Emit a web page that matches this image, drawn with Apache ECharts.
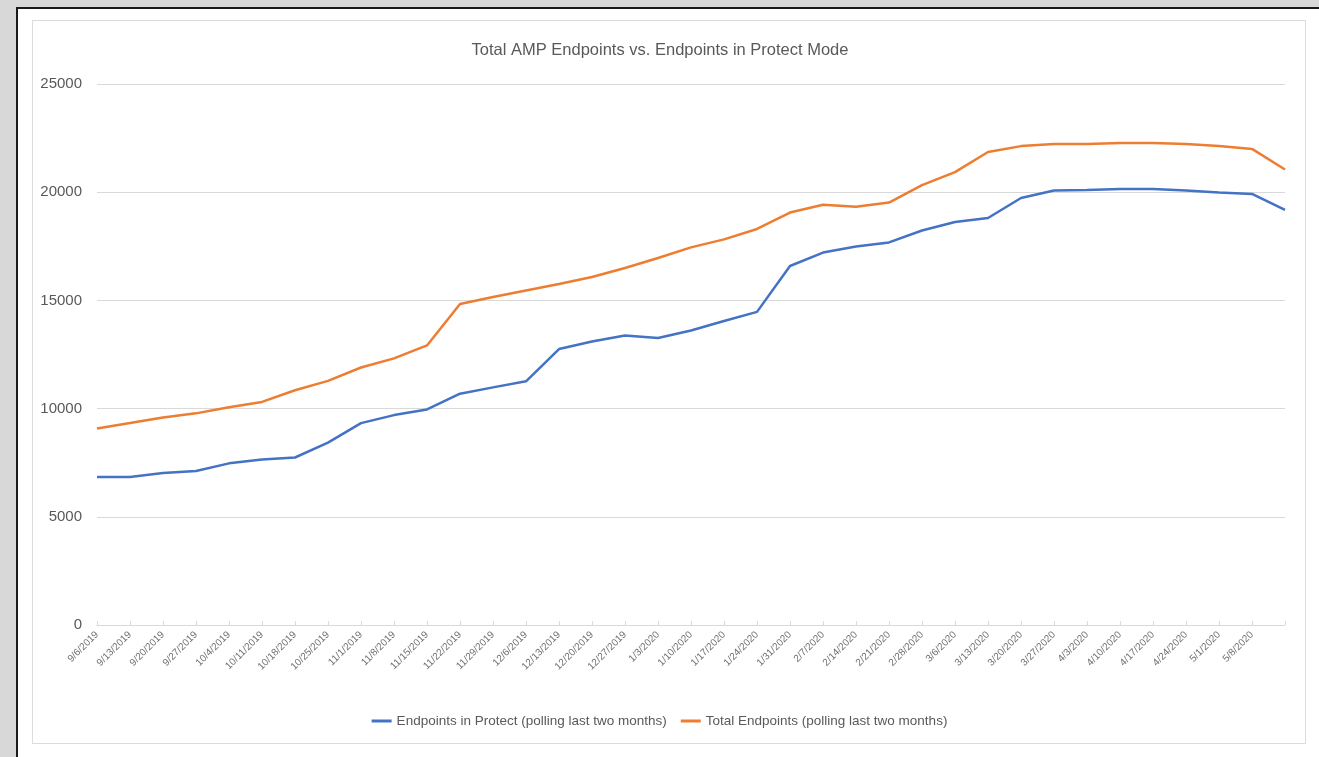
<!DOCTYPE html>
<html>
<head>
<meta charset="utf-8">
<title>Total AMP Endpoints vs. Endpoints in Protect Mode</title>
<script src="https://cdn.jsdelivr.net/npm/echarts@6/dist/echarts.min.js"></script>
<style>
  html, body {
    margin: 0;
    padding: 0;
    width: 1319px;
    height: 757px;
    overflow: hidden;
    background: #d8d8d8;
  }
  /* black framed white sheet */
  .sheet {
    position: absolute;
    left: 16px;
    top: 7px;
    width: 1320px;
    height: 760px;
    border-left: 2px solid #1a1a1a;
    border-top: 2px solid #1a1a1a;
    background: #fff;
  }
  /* light chart area border */
  .chart-frame {
    position: absolute;
    left: 32px;
    top: 20px;
    width: 1272px;
    height: 722px;
    border: 1px solid #dcdcdc;
  }
  #main {
    position: absolute;
    left: 0;
    top: 0;
    width: 1319px;
    height: 757px;
  }
</style>
</head>
<body>
<div class="sheet"></div>
<div class="chart-frame"></div>
<div id="main"></div>
<script>
// weekly polling dates (last one has no label on the axis)
const dates = [
  '9/6/2019', '9/13/2019', '9/20/2019', '9/27/2019', '10/4/2019', '10/11/2019',
  '10/18/2019', '10/25/2019', '11/1/2019', '11/8/2019', '11/15/2019', '11/22/2019',
  '11/29/2019', '12/6/2019', '12/13/2019', '12/20/2019', '12/27/2019', '1/3/2020',
  '1/10/2020', '1/17/2020', '1/24/2020', '1/31/2020', '2/7/2020', '2/14/2020',
  '2/21/2020', '2/28/2020', '3/6/2020', '3/13/2020', '3/20/2020', '3/27/2020',
  '4/3/2020', '4/10/2020', '4/17/2020', '4/24/2020', '5/1/2020', '5/8/2020',
  '5/15/2020'
]

// Endpoints in Protect (polling last two months)
const protectEndpoints = [
  6840, 6840, 7020, 7120, 7470, 7650, 7740, 8430, 9330, 9700, 9960, 10690,
  10980, 11260, 12750, 13100, 13380, 13260, 13610, 14050, 14470, 16590, 17210, 17490,
  17680, 18230, 18620, 18810, 19730, 20080, 20100, 20150, 20150, 20080, 19990, 19920,
  19180
]

// Total Endpoints (polling last two months)
const totalEndpoints = [
  9080, 9330, 9590, 9780, 10060, 10310, 10850, 11280, 11900, 12320, 12920, 14830,
  15160, 15460, 15760, 16080, 16500, 16960, 17450, 17820, 18300, 19060, 19420, 19330,
  19520, 20330, 20930, 21860, 22130, 22230, 22230, 22270, 22270, 22230, 22130, 22000,
  21050
]

const yTicks = { min: 0, max: 25000, interval: 5000 }

const textColor = '#595959'
const gridColor = '#d9d9d9'
const fontFamily = '"Liberation Sans", "DejaVu Sans", sans-serif'

const chart = echarts.init(document.getElementById('main'))

chart.setOption({
  backgroundColor: 'transparent',
  animation: false,
  textStyle: { fontFamily: fontFamily },
  title: {
    text: 'Total AMP Endpoints vs. Endpoints in Protect Mode',
    left: 655,
    top: 37,
    textAlign: 'center',
    textStyle: {
      fontSize: 16.5,
      fontWeight: 'normal',
      color: textColor,
      fontFamily: fontFamily
    }
  },
  legend: {
    left: 'center',
    top: 709,
    itemWidth: 20,
    itemHeight: 3,
    itemGap: 14,
    icon: 'rect',
    textStyle: { fontSize: 13.5, color: textColor, fontFamily: fontFamily },
    data: [
      'Endpoints in Protect (polling last two months)',
      'Total Endpoints (polling last two months)'
    ]
  },
  grid: {
    left: 97,
    right: 34,
    top: 84,
    bottom: 132
  },
  xAxis: {
    type: 'category',
    data: dates,
    boundaryGap: false,
    axisLine: { lineStyle: { color: gridColor, width: 1 } },
    axisTick: { show: true, length: 4, inside: true, lineStyle: { color: gridColor } },
    axisLabel: {
      interval: 0,
      rotate: 45,
      fontSize: 10,
      color: '#707070',
      margin: 8,
      // the last weekly point carries no label in the original
      formatter: (value, index) => (index === dates.length - 1 ? '' : value)
    }
  },
  yAxis: {
    type: 'value',
    min: yTicks.min,
    max: yTicks.max,
    interval: yTicks.interval,
    axisLine: { show: false },
    axisTick: { show: false },
    splitLine: { lineStyle: { color: gridColor, width: 1 } },
    axisLabel: {
      fontSize: 15,
      color: textColor,
      margin: 15,
      formatter: (v) => String(v)
    }
  },
  series: [
    {
      name: 'Endpoints in Protect (polling last two months)',
      type: 'line',
      data: protectEndpoints,
      symbol: 'none',
      color: '#4472c4',
      lineStyle: { width: 2.5, color: '#4472c4' }
    },
    {
      name: 'Total Endpoints (polling last two months)',
      type: 'line',
      data: totalEndpoints,
      symbol: 'none',
      color: '#ed7d31',
      lineStyle: { width: 2.5, color: '#ed7d31' }
    }
  ]
})
</script>
</body>
</html>
